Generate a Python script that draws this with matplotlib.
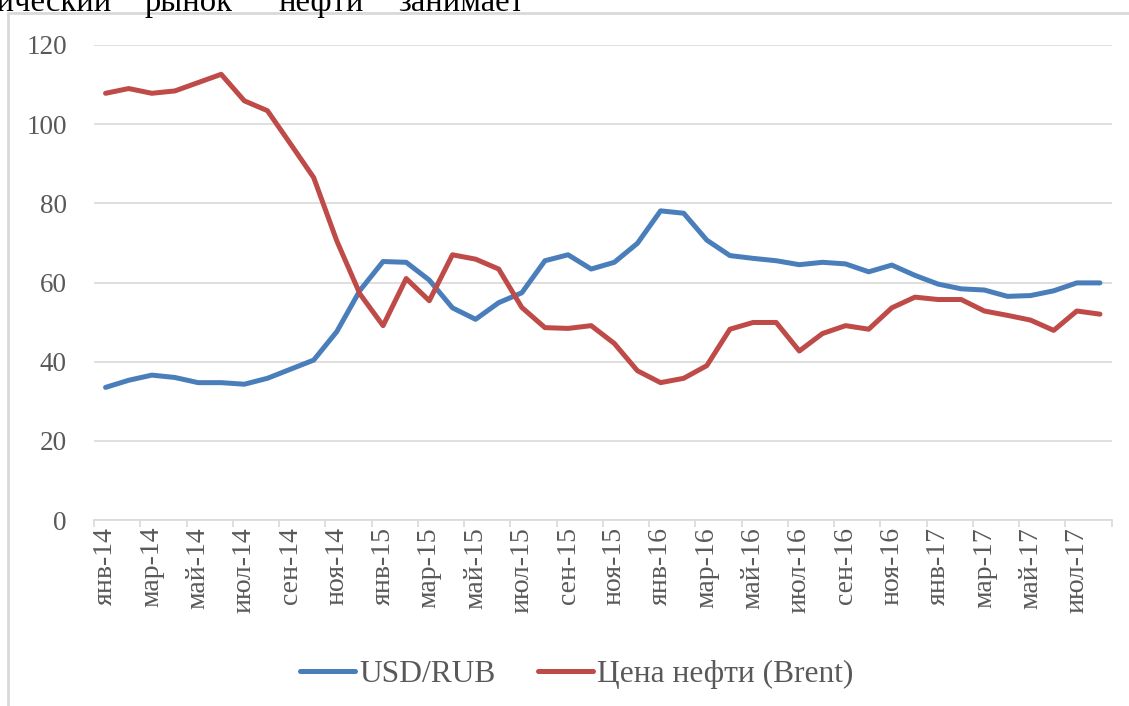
import matplotlib
matplotlib.use("Agg")
import matplotlib.pyplot as plt
from matplotlib.patches import Rectangle

months = ["янв", "фев", "мар", "апр", "май", "июн", "июл", "авг", "сен", "окт", "ноя", "дек"]
categories = [f"{m}-{y}" for y in ["14", "15", "16", "17"] for m in months][:44]

usd_rub = [33.5, 35.3, 36.6, 36.0, 34.7, 34.7, 34.3, 35.8, 38.1, 40.4, 47.6, 58.0,
           65.3, 65.1, 60.6, 53.6, 50.7, 54.9, 57.4, 65.5, 67.0, 63.4, 65.1, 69.9,
           78.1, 77.5, 70.7, 66.8, 66.1, 65.5, 64.5, 65.1, 64.7, 62.7, 64.4, 61.8,
           59.6, 58.4, 58.1, 56.5, 56.7, 57.9, 59.9, 59.9]
brent = [107.8, 109.0, 107.8, 108.4, 110.5, 112.6, 105.9, 103.4, 95.0, 86.5, 70.5, 57.1,
         49.1, 61.0, 55.4, 67.0, 65.9, 63.4, 53.7, 48.6, 48.4, 49.1, 44.6, 37.7,
         34.7, 35.8, 39.0, 48.2, 49.9, 49.9, 42.7, 47.1, 49.1, 48.2, 53.6, 56.3,
         55.7, 55.7, 52.8, 51.7, 50.5, 47.9, 52.8, 52.0]
yticks = [0, 20, 40, 60, 80, 100, 120]
series_names = ["USD/RUB", "Цена нефти (Brent)"]

W, H = 1129, 706
fig = plt.figure(figsize=(W / 100, H / 100), dpi=100)
serif = ["Liberation Serif", "DejaVu Serif"]
grey = "#595959"

# outer chart border
fig.patches.append(Rectangle((8 / W, -0.05), 1.1, (H - 13) / H + 0.05,
                             transform=fig.transFigure, fill=False,
                             edgecolor="#d9d9d9", linewidth=2))

# clipped document text at top
fig.text(112 / W, 1 - 11 / H, "нический", fontsize=23.5, family=serif, color="black",
         va="baseline", ha="right")
for word, xl in [("рынок", 145), ("нефти", 278), ("занимает", 398)]:
    fig.text(xl / W, 1 - 11 / H, word, fontsize=23.5, family=serif, color="black",
             va="baseline", ha="left")

ax = fig.add_axes([94 / W, (H - 520) / H, 1017.5 / W, 475 / H])
x = list(range(len(categories)))
l1, = ax.plot(x, usd_rub, color="#4A7EBB", linewidth=3.6, solid_capstyle="round",
              solid_joinstyle="round", label=series_names[0])
l2, = ax.plot(x, brent, color="#BE4B48", linewidth=3.6, solid_capstyle="round",
              solid_joinstyle="round", label=series_names[1])

ax.set_xlim(-0.5, len(categories) - 0.5)
ax.set_ylim(0, 120)
ax.set_yticks(yticks)
ax.set_yticklabels([str(v) for v in yticks], family=serif, fontsize=19.5, color=grey)
ax.tick_params(axis="y", length=0, pad=19.5)
ax.grid(axis="y", color="#d9d9d9", linewidth=1.2)
ax.set_axisbelow(True)

ax.set_xticks([i - 0.5 for i in range(0, len(categories) + 1, 2)])
ax.set_xticklabels([])
ax.set_xticks(x[::2], minor=True)
ax.set_xticklabels(categories[::2], minor=True, rotation=90, family=serif,
                   fontsize=20, color=grey, va="top", ha="center")
ax.tick_params(axis="x", which="major", length=5, color="#d9d9d9", width=1.2)
ax.tick_params(axis="x", which="minor", length=0, pad=5)

for s in ["top", "right", "left"]:
    ax.spines[s].set_visible(False)
ax.spines["bottom"].set_color("#d9d9d9")
ax.spines["bottom"].set_linewidth(1.2)

leg = fig.legend(handles=[l1, l2], loc="center", bbox_to_anchor=(576.5 / W, (H - 674) / H),
                 ncol=2, frameon=False, handlelength=1.75, handletextpad=0.12,
                 columnspacing=1.35, prop={"family": serif, "size": 22.7})
for t in leg.get_texts():
    t.set_color(grey)

fig.savefig("out.png", dpi=100)
